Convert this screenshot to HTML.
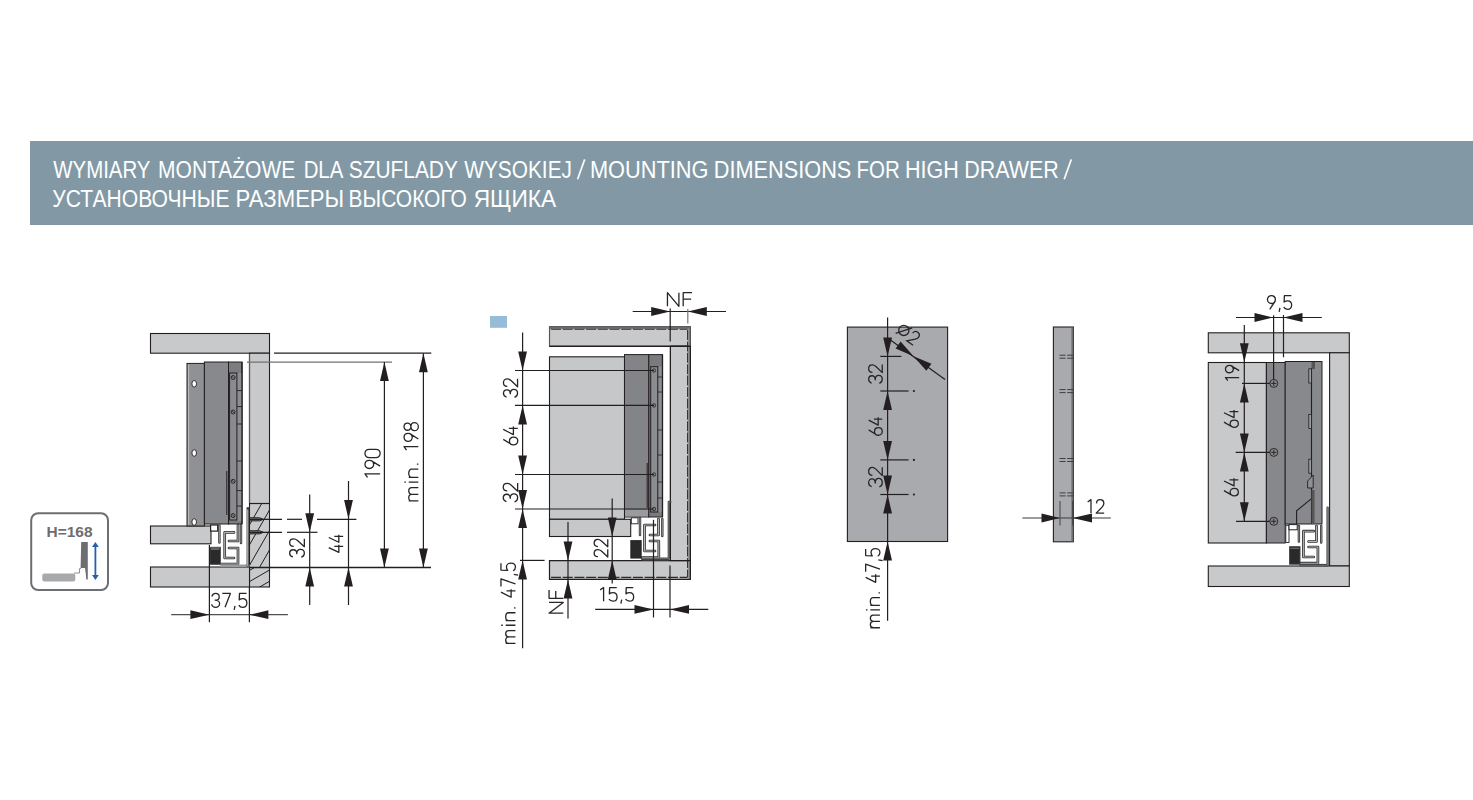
<!DOCTYPE html>
<html><head><meta charset="utf-8"><style>
html,body{margin:0;padding:0;background:#fff;width:1473px;height:800px;overflow:hidden}
svg text{font-family:"Liberation Sans",sans-serif}
</style></head><body>
<svg width="1473" height="800" viewBox="0 0 1473 800" style="display:block"><rect x="30" y="141" width="1443" height="84" fill="#8299a5"/>
<text x="53.31" y="178" font-size="24.8" fill="#ffffff"  textLength="97.14" lengthAdjust="spacingAndGlyphs">WYMIARY</text>
<text x="158.10" y="178" font-size="24.8" fill="#ffffff"  textLength="137.09" lengthAdjust="spacingAndGlyphs">MONTAŻOWE</text>
<text x="303.63" y="178" font-size="24.8" fill="#ffffff"  textLength="39.61" lengthAdjust="spacingAndGlyphs">DLA</text>
<text x="348.75" y="178" font-size="24.8" fill="#ffffff"  textLength="109.11" lengthAdjust="spacingAndGlyphs">SZUFLADY</text>
<text x="464.31" y="178" font-size="24.8" fill="#ffffff"  textLength="107.64" lengthAdjust="spacingAndGlyphs">WYSOKIEJ</text>
<text x="589.91" y="178" font-size="24.8" fill="#ffffff"  textLength="118.51" lengthAdjust="spacingAndGlyphs">MOUNTING</text>
<text x="713.82" y="178" font-size="24.8" fill="#ffffff"  textLength="137.48" lengthAdjust="spacingAndGlyphs">DIMENSIONS</text>
<text x="856.52" y="178" font-size="24.8" fill="#ffffff"  textLength="43.23" lengthAdjust="spacingAndGlyphs">FOR</text>
<text x="905.03" y="178" font-size="24.8" fill="#ffffff"  textLength="53.82" lengthAdjust="spacingAndGlyphs">HIGH</text>
<text x="964.16" y="178" font-size="24.8" fill="#ffffff"  textLength="94.53" lengthAdjust="spacingAndGlyphs">DRAWER</text>
<line x1="577.6" y1="179.3" x2="584.7" y2="159.4" stroke="#fbfbfb" stroke-width="1.7" />
<line x1="1064.2" y1="179.3" x2="1071.3" y2="159.4" stroke="#fbfbfb" stroke-width="1.7" />
<text x="52.34" y="207" font-size="24.8" fill="#ffffff"  textLength="177.15" lengthAdjust="spacingAndGlyphs">УСТАНОВОЧНЫЕ</text>
<text x="235.62" y="207" font-size="24.8" fill="#ffffff"  textLength="108.57" lengthAdjust="spacingAndGlyphs">РАЗМЕРЫ</text>
<text x="348.61" y="207" font-size="24.8" fill="#ffffff"  textLength="118.28" lengthAdjust="spacingAndGlyphs">ВЫСОКОГО</text>
<text x="473.74" y="207" font-size="24.8" fill="#ffffff"  textLength="82.31" lengthAdjust="spacingAndGlyphs">ЯЩИКА</text>
<rect x="31.2" y="513.2" width="76.8" height="76.8" rx="7" fill="#fff" stroke="#6d6e71" stroke-width="2"/>
<text x="46.5" y="537" font-size="15.5" font-weight="bold" fill="#6d6e71" textLength="46" lengthAdjust="spacingAndGlyphs">H=168</text>
<rect x="42.3" y="573.5" width="33" height="8" rx="2" fill="#a7a9ac"/>
<polygon points="81.2,542 87.8,542 87.8,579.5 86.3,579.5 85.8,574 85,568 80.6,568" fill="#6d6e71" stroke="none" stroke-width="1" />
<polyline points="74,573 79.5,573 79.5,568.5 81,568.5" fill="none" stroke="#8f9093" stroke-width="1" />
<line x1="95.4" y1="545" x2="95.4" y2="577" stroke="#2a5ea8" stroke-width="1.8"/>
<polygon points="95.4,542 92,547 98.8,547" fill="#2a5ea8" stroke="none" stroke-width="1" />
<polygon points="95.4,580 92,575 98.8,575" fill="#2a5ea8" stroke="none" stroke-width="1" />
<rect x="150.5" y="333.5" width="119" height="19.7" fill="#c8c9cb" stroke="#231f20" stroke-width="1.1" />
<rect x="249.5" y="353.2" width="20" height="233.8" fill="#c8c9cb" stroke="#231f20" stroke-width="1.1" />
<line x1="249.5" y1="353.8" x2="249.5" y2="503" stroke="#5a5a5a" stroke-width="1.2" />
<clipPath id="h1"><rect x="249.5" y="503.5" width="20" height="63.8"/></clipPath>
<clipPath id="h2"><rect x="249.5" y="567.3" width="20" height="19.7"/></clipPath>
<g clip-path="url(#h1)"><line x1="269.5" y1="470" x2="249.5" y2="504.8" stroke="#231f20" stroke-width="1"/><line x1="269.5" y1="490" x2="249.5" y2="524.8" stroke="#231f20" stroke-width="1"/><line x1="269.5" y1="510" x2="249.5" y2="544.8" stroke="#231f20" stroke-width="1"/><line x1="269.5" y1="530.5" x2="249.5" y2="565.3" stroke="#231f20" stroke-width="1"/><line x1="269.5" y1="550" x2="249.5" y2="584.8" stroke="#231f20" stroke-width="1"/><line x1="269.5" y1="570" x2="249.5" y2="604.8" stroke="#231f20" stroke-width="1"/></g>
<g clip-path="url(#h2)"><line x1="269.5" y1="558.8" x2="249.5" y2="570.4" stroke="#231f20" stroke-width="1"/><line x1="269.5" y1="570" x2="249.5" y2="581.6" stroke="#231f20" stroke-width="1"/><line x1="269.5" y1="581.3" x2="249.5" y2="592.9" stroke="#231f20" stroke-width="1"/><line x1="269.5" y1="592.5" x2="249.5" y2="604.1" stroke="#231f20" stroke-width="1"/></g>
<line x1="249.5" y1="503.5" x2="269.5" y2="503.5" stroke="#231f20" stroke-width="1.2" />
<rect x="150.5" y="567" width="99" height="20" fill="#c8c9cb" stroke="#231f20" stroke-width="1.1" />
<rect x="150.5" y="526" width="60.5" height="17.8" fill="#c8c9cb" stroke="#231f20" stroke-width="1.1" />
<rect x="187" y="363.4" width="17.4" height="162.6" fill="#909194" stroke="#231f20" stroke-width="1" />
<line x1="188.6" y1="364.5" x2="188.6" y2="525" stroke="#c9cacc" stroke-width="0.8" />
<ellipse cx="194.2" cy="383.8" rx="2.3" ry="3.3" fill="#fff" stroke="#231f20" stroke-width="0.9"/>
<ellipse cx="194.2" cy="453" rx="2.3" ry="3.3" fill="#fff" stroke="#231f20" stroke-width="0.9"/>
<ellipse cx="194.2" cy="522" rx="2.3" ry="3.3" fill="#fff" stroke="#231f20" stroke-width="0.9"/>
<rect x="204.4" y="362" width="24.1" height="162" fill="#88898c" stroke="#231f20" stroke-width="1" />
<rect x="228.5" y="362" width="13.5" height="162" fill="#7c7d80" stroke="#231f20" stroke-width="1" />
<rect x="236.9" y="373" width="5.1" height="148" fill="#8d8e91" stroke="none" stroke-width="1.1" />
<rect x="229.6" y="373" width="7.3" height="147" fill="#8a8b8e" stroke="#231f20" stroke-width="1" />
<line x1="242" y1="362" x2="242" y2="524" stroke="#231f20" stroke-width="1.3" />
<line x1="236.9" y1="390.6" x2="242" y2="390.6" stroke="#231f20" stroke-width="0.9" />
<line x1="236.9" y1="406.6" x2="242" y2="406.6" stroke="#231f20" stroke-width="0.9" />
<line x1="236.9" y1="424" x2="242" y2="424" stroke="#231f20" stroke-width="0.9" />
<line x1="236.9" y1="461" x2="242" y2="461" stroke="#231f20" stroke-width="0.9" />
<line x1="236.9" y1="490.6" x2="242" y2="490.6" stroke="#231f20" stroke-width="0.9" />
<line x1="236.9" y1="506" x2="242" y2="506" stroke="#231f20" stroke-width="0.9" />
<line x1="226.8" y1="471" x2="226.8" y2="515" stroke="#231f20" stroke-width="1" />
<circle cx="233.1" cy="377.5" r="2" fill="#8a8b8e" stroke="#231f20" stroke-width="0.9"/>
<line x1="231.8" y1="376.2" x2="234.4" y2="378.8" stroke="#231f20" stroke-width="0.8" />
<circle cx="233.1" cy="412" r="2" fill="#8a8b8e" stroke="#231f20" stroke-width="0.9"/>
<line x1="231.8" y1="410.7" x2="234.4" y2="413.3" stroke="#231f20" stroke-width="0.8" />
<circle cx="233.1" cy="481.3" r="2" fill="#8a8b8e" stroke="#231f20" stroke-width="0.9"/>
<line x1="231.8" y1="480" x2="234.4" y2="482.6" stroke="#231f20" stroke-width="0.8" />
<circle cx="233.1" cy="515.6" r="2" fill="#8a8b8e" stroke="#231f20" stroke-width="0.9"/>
<line x1="231.8" y1="514.3" x2="234.4" y2="516.9" stroke="#231f20" stroke-width="0.8" />
<rect x="210.6" y="525" width="7.1" height="6.1" fill="#fff" stroke="#231f20" stroke-width="1.2" />
<polyline points="219.4,525.5 219.4,542.5" fill="none" stroke="#2e2e2e" stroke-width="2.4" stroke-linejoin="round" stroke-linecap="round"/>
<polyline points="219.4,525.5 219.4,542.5" fill="none" stroke="#b4b4b4" stroke-width="0.7999999999999998" stroke-linejoin="round" stroke-linecap="round"/>
<polyline points="241,525 241,543" fill="none" stroke="#2e2e2e" stroke-width="2.4" stroke-linejoin="round" stroke-linecap="round"/>
<polyline points="241,525 241,543" fill="none" stroke="#b4b4b4" stroke-width="0.7999999999999998" stroke-linejoin="round" stroke-linecap="round"/>
<polyline points="234,532.4 224.7,532.4 224.7,558 234,558" fill="none" stroke="#2e2e2e" stroke-width="2.7" stroke-linejoin="round" stroke-linecap="round"/>
<polyline points="234,532.4 224.7,532.4 224.7,558 234,558" fill="none" stroke="#b4b4b4" stroke-width="1.1" stroke-linejoin="round" stroke-linecap="round"/>
<polyline points="238,525 238,541 229,541" fill="none" stroke="#2e2e2e" stroke-width="2.7" stroke-linejoin="round" stroke-linecap="round"/>
<polyline points="238,525 238,541 229,541" fill="none" stroke="#b4b4b4" stroke-width="1.1" stroke-linejoin="round" stroke-linecap="round"/>
<polyline points="229,548 238,548 238,564 221,564" fill="none" stroke="#2e2e2e" stroke-width="2.7" stroke-linejoin="round" stroke-linecap="round"/>
<polyline points="229,548 238,548 238,564 221,564" fill="none" stroke="#b4b4b4" stroke-width="1.1" stroke-linejoin="round" stroke-linecap="round"/>
<rect x="209.8" y="547.3" width="10.7" height="17.1" fill="#2a2a2a" stroke="#555" stroke-width="1" />
<line x1="211" y1="549" x2="219.5" y2="549" stroke="#999" stroke-width="1" />
<rect x="220.5" y="564.5" width="29" height="2.5" fill="#9a9b9e" stroke="none" stroke-width="1.1" />
<polyline points="247.8,566.5 247.8,508.5 249.5,508.5" fill="none" stroke="#333" stroke-width="2.4" />
<polyline points="247.8,566 247.8,509.5" fill="none" stroke="#fff" stroke-width="0.8" />
<polygon points="249.5,517.7 259.5,517.7 263.5,519.3 259.5,520.9 249.5,520.9" fill="#777" stroke="#231f20" stroke-width="0.9" />
<polygon points="249.5,530.7 259.5,530.7 263.5,532.3 259.5,533.9 249.5,533.9" fill="#777" stroke="#231f20" stroke-width="0.9" />
<line x1="274" y1="353.2" x2="431.3" y2="353.2" stroke="#231f20" stroke-width="1.2" />
<line x1="247" y1="362.1" x2="392" y2="362.1" stroke="#707070" stroke-width="1.2" />
<polygon points="384.4,362.1 380,381.1 388.8,381.1" fill="#231f20" stroke="none" stroke-width="1" />
<line x1="384.4" y1="362.1" x2="384.4" y2="567.5" stroke="#231f20" stroke-width="1.2" />
<polygon points="423.4,353.2 419,372.2 427.8,372.2" fill="#231f20" stroke="none" stroke-width="1" />
<line x1="423.4" y1="353.2" x2="423.4" y2="567.5" stroke="#231f20" stroke-width="1.2" />
<polygon points="384.4,567.5 380,548.5 388.8,548.5" fill="#231f20" stroke="none" stroke-width="1" />
<polygon points="423.4,567.5 419,548.5 427.8,548.5" fill="#231f20" stroke="none" stroke-width="1" />
<line x1="249.5" y1="567.5" x2="431" y2="567.5" stroke="#231f20" stroke-width="1.6" />
<line x1="249.5" y1="519.3" x2="282" y2="519.3" stroke="#231f20" stroke-width="1.2" />
<line x1="287" y1="519.3" x2="302" y2="519.3" stroke="#231f20" stroke-width="1.2" />
<line x1="317" y1="519.3" x2="356.4" y2="519.3" stroke="#231f20" stroke-width="1.2" />
<line x1="249.5" y1="532.3" x2="282" y2="532.3" stroke="#231f20" stroke-width="1.2" />
<line x1="287" y1="532.3" x2="317.5" y2="532.3" stroke="#231f20" stroke-width="1.2" />
<line x1="309.7" y1="494.4" x2="309.7" y2="605" stroke="#231f20" stroke-width="1.2" />
<polygon points="309.7,532.3 305.3,513.3 314.1,513.3" fill="#231f20" stroke="none" stroke-width="1" />
<polygon points="309.7,567.5 305.3,586.5 314.1,586.5" fill="#231f20" stroke="none" stroke-width="1" />
<line x1="348.5" y1="481" x2="348.5" y2="605" stroke="#231f20" stroke-width="1.2" />
<polygon points="348.5,519.1 344.1,500.1 352.9,500.1" fill="#231f20" stroke="none" stroke-width="1" />
<polygon points="348.5,567.5 344.1,586.5 352.9,586.5" fill="#231f20" stroke="none" stroke-width="1" />
<g transform="translate(289,557.9) rotate(-90) translate(0.65,0.65) scale(0.9894,1.0500) translate(0,0)" fill="none" stroke="#262626" stroke-width="1.3" stroke-linejoin="round"><path vector-effect="non-scaling-stroke" transform="translate(0,0)" d="M0.3,3.1 C0.8,1.1 2.3,0 4,0 C6.1,0 7.6,1.5 7.6,3.5 C7.6,5.5 6.1,6.8 3.6,6.8 C6.3,6.8 8,8.2 8,10.3 C8,12.5 6.3,14 4,14 C2.1,14 0.6,12.9 0,11"/><path vector-effect="non-scaling-stroke" transform="translate(10.7,0)" d="M0.3,3.9 C0.4,1.5 2,0 4,0 C6.2,0 7.8,1.6 7.8,3.8 C7.8,5.2 7.2,6.3 6.2,7.5 L0,14 L8.1,14"/></g>
<g transform="translate(328.1,553) rotate(-90) translate(0.65,0.65) scale(0.9077,1.0286) translate(0,0)" fill="none" stroke="#262626" stroke-width="1.3" stroke-linejoin="round"><path vector-effect="non-scaling-stroke" transform="translate(0,0)" d="M5.3,0 L0,9.8 L8.4,9.8 M6.5,5.4 L6.5,14"/><path vector-effect="non-scaling-stroke" transform="translate(11.1,0)" d="M5.3,0 L0,9.8 L8.4,9.8 M6.5,5.4 L6.5,14"/></g>
<g transform="translate(364.3,478) rotate(-90) translate(0.65,0.65) scale(1.0182,1.0857) translate(-3,0)" fill="none" stroke="#262626" stroke-width="1.3" stroke-linejoin="round"><path vector-effect="non-scaling-stroke" transform="translate(0,0)" d="M3,2.4 L6.4,0 L6.4,14"/><path vector-effect="non-scaling-stroke" transform="translate(11.7,0)" d="M2.3,14 L7,6.8 M8,4 C8,6.4 6.2,8 4,8 C1.8,8 0,6.4 0,4 C0,1.6 1.8,0 4,0 C6.2,0 8,1.6 8,4 Z"/><path vector-effect="non-scaling-stroke" transform="translate(22.4,0)" d="M0,4 C0,1.6 1.7,0 4,0 C6.3,0 8,1.6 8,4 L8,10 C8,12.4 6.3,14 4,14 C1.7,14 0,12.4 0,10 Z"/></g>
<g transform="translate(403.4,501.6) rotate(-90) translate(0.65,0.65) scale(1.0000,1.0214) translate(0,0)" fill="none" stroke="#262626" stroke-width="1.3" stroke-linejoin="round"><path vector-effect="non-scaling-stroke" transform="translate(0,0)" d="M0,4.6 L0,14 M0,7.4 C0,5.6 1.5,4.6 3.3,4.6 C5.3,4.6 6.65,5.6 6.65,7.4 L6.65,14 M6.65,7.4 C6.65,5.6 8,4.6 9.9,4.6 C11.9,4.6 13.3,5.6 13.3,7.4 L13.3,14"/><path vector-effect="non-scaling-stroke" transform="translate(18.3,0)" d="M0.5,4.6 L0.5,14 M0.5,0.3 L0.5,1.8"/><path vector-effect="non-scaling-stroke" transform="translate(23.5,0)" d="M0,4.6 L0,14 M0,7.4 C0,5.6 1.8,4.6 4.1,4.6 C6.5,4.6 8.3,5.6 8.3,7.4 L8.3,14"/><path vector-effect="non-scaling-stroke" transform="translate(36.3,0)" d="M0.5,12.6 L0.5,14"/><path vector-effect="non-scaling-stroke" transform="translate(47.9,0)" d="M3,2.4 L6.4,0 L6.4,14"/><path vector-effect="non-scaling-stroke" transform="translate(59.6,0)" d="M2.3,14 L7,6.8 M8,4 C8,6.4 6.2,8 4,8 C1.8,8 0,6.4 0,4 C0,1.6 1.8,0 4,0 C6.2,0 8,1.6 8,4 Z"/><path vector-effect="non-scaling-stroke" transform="translate(70.3,0)" d="M0.4,3.35 C0.4,1.4 2,0 4,0 C6,0 7.6,1.4 7.6,3.35 C7.6,5.3 6,6.7 4,6.7 C2,6.7 0.4,5.3 0.4,3.35 Z M0,10.2 C0,8 1.8,6.7 4,6.7 C6.2,6.7 8,8 8,10.2 C8,12.4 6.2,14 4,14 C1.8,14 0,12.4 0,10.2 Z"/></g>
<line x1="171.2" y1="614.7" x2="287.9" y2="614.7" stroke="#505050" stroke-width="1.2" />
<polygon points="209.4,614.7 190.4,610.3 190.4,619.1" fill="#231f20" stroke="none" stroke-width="1" />
<polygon points="249.4,614.7 268.4,610.3 268.4,619.1" fill="#231f20" stroke="none" stroke-width="1" />
<line x1="209.4" y1="545" x2="209.4" y2="622.3" stroke="#231f20" stroke-width="1.2" />
<line x1="249.4" y1="587" x2="249.4" y2="622.3" stroke="#231f20" stroke-width="1.2" />
<g transform="translate(211.55,593.45) scale(1.0057,0.9929) translate(0,0)" fill="none" stroke="#262626" stroke-width="1.3" stroke-linejoin="round"><g vector-effect="non-scaling-stroke"><path vector-effect="non-scaling-stroke" transform="translate(0,0)" d="M0.3,3.1 C0.8,1.1 2.3,0 4,0 C6.1,0 7.6,1.5 7.6,3.5 C7.6,5.5 6.1,6.8 3.6,6.8 C6.3,6.8 8,8.2 8,10.3 C8,12.5 6.3,14 4,14 C2.1,14 0.6,12.9 0,11"/><path vector-effect="non-scaling-stroke" transform="translate(10.7,0)" d="M0,0 L8,0 L2.7,14"/><path vector-effect="non-scaling-stroke" transform="translate(21.4,0)" d="M1.9,12.4 L1.1,16.6"/><path vector-effect="non-scaling-stroke" transform="translate(27.1,0)" d="M7.7,0 L0.7,0 L0.4,6.5 C1.4,5.7 2.6,5.3 3.9,5.3 C6.4,5.3 8,7.1 8,9.6 C8,12.3 6.3,14 3.9,14 C2.2,14 0.8,13.2 0,11.8"/></g></g>
<rect x="490" y="316" width="17" height="11.8" fill="#96bcd8"/>
<rect x="549.5" y="326.8" width="140.9" height="19.5" fill="#c8c9cb" stroke="#231f20" stroke-width="1.1" />
<rect x="670.4" y="346.3" width="20" height="214.3" fill="#c8c9cb" stroke="#231f20" stroke-width="1.1" />
<rect x="549.5" y="560.6" width="140.9" height="18.8" fill="#c8c9cb" stroke="#231f20" stroke-width="1.1" />
<rect x="549.5" y="327" width="140.9" height="2" fill="#808184"/>
<rect x="688.4" y="327" width="2" height="252" fill="#808184"/>
<line x1="551" y1="329.3" x2="687.6" y2="329.3" stroke="#2e2e2e" stroke-width="1.1" stroke-dasharray="10,1.7"/>
<line x1="551" y1="577.4" x2="687.6" y2="577.4" stroke="#2e2e2e" stroke-width="1.1" stroke-dasharray="10,1.7"/>
<line x1="687.6" y1="330" x2="687.6" y2="577" stroke="#2e2e2e" stroke-width="1.1" stroke-dasharray="10,1.4"/>
<rect x="549.5" y="326.8" width="140.9" height="19.5" fill="none" stroke="#555" stroke-width="1" />
<line x1="549.5" y1="346.3" x2="690.4" y2="346.3" stroke="#231f20" stroke-width="1.2" />
<rect x="670.4" y="346.3" width="20" height="214.3" fill="none" stroke="#231f20" stroke-width="1.1" />
<rect x="549.5" y="560.6" width="140.9" height="18.8" fill="none" stroke="#231f20" stroke-width="1.1" />
<line x1="549.5" y1="327.3" x2="690.4" y2="327.3" stroke="#68696c" stroke-width="1.8" />
<rect x="549.5" y="356.8" width="75" height="162.5" fill="#c6c7c9" stroke="#231f20" stroke-width="1.1" />
<rect x="549.5" y="519.3" width="81.2" height="17.2" fill="#c6c7c9" stroke="#231f20" stroke-width="1.1" />
<rect x="624.5" y="354.6" width="24.3" height="162.4" fill="#838487" stroke="#231f20" stroke-width="1" />
<rect x="625" y="510" width="23.3" height="6.5" fill="#9a9b9e" stroke="none" stroke-width="1.1" />
<rect x="648.8" y="354.6" width="13.7" height="162.4" fill="#7a7b7e" stroke="#231f20" stroke-width="1" />
<rect x="657.8" y="366.7" width="4.7" height="145.3" fill="#8d8e91" stroke="none" stroke-width="1.1" />
<rect x="650.7" y="366.7" width="7.1" height="145.3" fill="#8b8c8f" stroke="#231f20" stroke-width="1" />
<line x1="662.5" y1="354.6" x2="662.5" y2="517" stroke="#231f20" stroke-width="1.3" />
<line x1="657.8" y1="377" x2="662.5" y2="377" stroke="#231f20" stroke-width="0.8" />
<line x1="657.8" y1="392" x2="662.5" y2="392" stroke="#231f20" stroke-width="0.8" />
<line x1="657.8" y1="430" x2="662.5" y2="430" stroke="#231f20" stroke-width="0.8" />
<line x1="657.8" y1="455" x2="662.5" y2="455" stroke="#231f20" stroke-width="0.8" />
<line x1="657.8" y1="482" x2="662.5" y2="482" stroke="#231f20" stroke-width="0.8" />
<line x1="657.8" y1="498" x2="662.5" y2="498" stroke="#231f20" stroke-width="0.8" />
<line x1="647.2" y1="463" x2="647.2" y2="508" stroke="#231f20" stroke-width="1" />
<circle cx="654" cy="370.5" r="1.7" fill="none" stroke="#231f20" stroke-width="0.8"/>
<circle cx="654" cy="405.4" r="1.7" fill="none" stroke="#231f20" stroke-width="0.8"/>
<circle cx="654" cy="474.5" r="1.7" fill="none" stroke="#231f20" stroke-width="0.8"/>
<circle cx="654" cy="509" r="1.7" fill="none" stroke="#231f20" stroke-width="0.8"/>
<rect x="631.3" y="517.8" width="6.7" height="6" fill="#fff" stroke="#231f20" stroke-width="0.9" />
<polyline points="640,518 640,535" fill="none" stroke="#2e2e2e" stroke-width="2.4" stroke-linejoin="round" stroke-linecap="round"/>
<polyline points="640,518 640,535" fill="none" stroke="#b4b4b4" stroke-width="0.7999999999999998" stroke-linejoin="round" stroke-linecap="round"/>
<polyline points="662.3,519 662.3,536" fill="none" stroke="#2e2e2e" stroke-width="2.4" stroke-linejoin="round" stroke-linecap="round"/>
<polyline points="662.3,519 662.3,536" fill="none" stroke="#b4b4b4" stroke-width="0.7999999999999998" stroke-linejoin="round" stroke-linecap="round"/>
<polyline points="655,525 644.5,525 644.5,551 655,551" fill="none" stroke="#2e2e2e" stroke-width="2.7" stroke-linejoin="round" stroke-linecap="round"/>
<polyline points="655,525 644.5,525 644.5,551 655,551" fill="none" stroke="#b4b4b4" stroke-width="1.1" stroke-linejoin="round" stroke-linecap="round"/>
<polyline points="658.5,519 658.5,535 650,535" fill="none" stroke="#2e2e2e" stroke-width="2.7" stroke-linejoin="round" stroke-linecap="round"/>
<polyline points="658.5,519 658.5,535 650,535" fill="none" stroke="#b4b4b4" stroke-width="1.1" stroke-linejoin="round" stroke-linecap="round"/>
<polyline points="650,541 658.8,541 658.8,557.5 642,557.5" fill="none" stroke="#2e2e2e" stroke-width="2.7" stroke-linejoin="round" stroke-linecap="round"/>
<polyline points="650,541 658.8,541 658.8,557.5 642,557.5" fill="none" stroke="#b4b4b4" stroke-width="1.1" stroke-linejoin="round" stroke-linecap="round"/>
<rect x="630.8" y="540.6" width="10.4" height="17.5" fill="#2a2a2a" stroke="#231f20" stroke-width="0.8" />
<rect x="641.9" y="557.5" width="26.9" height="2.7" fill="#9a9b9e" stroke="none" stroke-width="1.1" />
<polyline points="641.9,558.8 668.8,558.8 668.8,501.9 670.4,501.9" fill="none" stroke="#2e2e2e" stroke-width="2.2" stroke-linejoin="round" stroke-linecap="round"/>
<polyline points="641.9,558.8 668.8,558.8 668.8,501.9 670.4,501.9" fill="none" stroke="#b4b4b4" stroke-width="0.6000000000000001" stroke-linejoin="round" stroke-linecap="round"/>
<line x1="522.6" y1="332.5" x2="522.6" y2="648.3" stroke="#231f20" stroke-width="1.2" />
<line x1="515" y1="370.5" x2="654" y2="370.5" stroke="#231f20" stroke-width="1.2" />
<line x1="515" y1="405.4" x2="654" y2="405.4" stroke="#231f20" stroke-width="1.2" />
<line x1="515" y1="474.5" x2="654" y2="474.5" stroke="#231f20" stroke-width="1.2" />
<line x1="515" y1="509" x2="654" y2="509" stroke="#231f20" stroke-width="1.2" />
<polygon points="522.6,370.5 518.2,351.5 527,351.5" fill="#231f20" stroke="none" stroke-width="1" />
<polygon points="522.6,405.4 518.2,424.4 527,424.4" fill="#231f20" stroke="none" stroke-width="1" />
<polygon points="522.6,474.5 518.2,455.5 527,455.5" fill="#231f20" stroke="none" stroke-width="1" />
<polygon points="522.6,509 518.2,490 527,490" fill="#231f20" stroke="none" stroke-width="1" />
<polygon points="522.6,509 518.2,528 527,528" fill="#231f20" stroke="none" stroke-width="1" />
<polygon points="522.6,560.4 518.2,579.4 527,579.4" fill="#231f20" stroke="none" stroke-width="1" />
<line x1="520" y1="560.4" x2="544.6" y2="560.4" stroke="#231f20" stroke-width="1.2" />
<g transform="translate(502.8,398) rotate(-90) translate(0.65,0.65) scale(0.9947,1.0071) translate(0,0)" fill="none" stroke="#262626" stroke-width="1.3" stroke-linejoin="round"><path vector-effect="non-scaling-stroke" transform="translate(0,0)" d="M0.3,3.1 C0.8,1.1 2.3,0 4,0 C6.1,0 7.6,1.5 7.6,3.5 C7.6,5.5 6.1,6.8 3.6,6.8 C6.3,6.8 8,8.2 8,10.3 C8,12.5 6.3,14 4,14 C2.1,14 0.6,12.9 0,11"/><path vector-effect="non-scaling-stroke" transform="translate(10.7,0)" d="M0.3,3.9 C0.4,1.5 2,0 4,0 C6.2,0 7.8,1.6 7.8,3.8 C7.8,5.2 7.2,6.3 6.2,7.5 L0,14 L8.1,14"/></g>
<g transform="translate(502.6,445.6) rotate(-90) translate(0.65,0.65) scale(0.9686,1.0357) translate(0,0)" fill="none" stroke="#262626" stroke-width="1.3" stroke-linejoin="round"><path vector-effect="non-scaling-stroke" transform="translate(0,0)" d="M5.7,0 L1,7.2 M0,10 C0,7.6 1.8,6 4,6 C6.2,6 8,7.6 8,10 C8,12.4 6.2,14 4,14 C1.8,14 0,12.4 0,10 Z"/><path vector-effect="non-scaling-stroke" transform="translate(10.7,0)" d="M5.3,0 L0,9.8 L8.4,9.8 M6.5,5.4 L6.5,14"/></g>
<g transform="translate(502.6,502.5) rotate(-90) translate(0.65,0.65) scale(1.0000,1.0286) translate(0,0)" fill="none" stroke="#262626" stroke-width="1.3" stroke-linejoin="round"><path vector-effect="non-scaling-stroke" transform="translate(0,0)" d="M0.3,3.1 C0.8,1.1 2.3,0 4,0 C6.1,0 7.6,1.5 7.6,3.5 C7.6,5.5 6.1,6.8 3.6,6.8 C6.3,6.8 8,8.2 8,10.3 C8,12.5 6.3,14 4,14 C2.1,14 0.6,12.9 0,11"/><path vector-effect="non-scaling-stroke" transform="translate(10.7,0)" d="M0.3,3.9 C0.4,1.5 2,0 4,0 C6.2,0 7.8,1.6 7.8,3.8 C7.8,5.2 7.2,6.3 6.2,7.5 L0,14 L8.1,14"/></g>
<g transform="translate(500.3,644) rotate(-90) translate(0.65,0.65) scale(0.9628,1.0357) translate(0,0)" fill="none" stroke="#262626" stroke-width="1.3" stroke-linejoin="round"><path vector-effect="non-scaling-stroke" transform="translate(0,0)" d="M0,4.6 L0,14 M0,7.4 C0,5.6 1.5,4.6 3.3,4.6 C5.3,4.6 6.65,5.6 6.65,7.4 L6.65,14 M6.65,7.4 C6.65,5.6 8,4.6 9.9,4.6 C11.9,4.6 13.3,5.6 13.3,7.4 L13.3,14"/><path vector-effect="non-scaling-stroke" transform="translate(18.3,0)" d="M0.5,4.6 L0.5,14 M0.5,0.3 L0.5,1.8"/><path vector-effect="non-scaling-stroke" transform="translate(23.5,0)" d="M0,4.6 L0,14 M0,7.4 C0,5.6 1.8,4.6 4.1,4.6 C6.5,4.6 8.3,5.6 8.3,7.4 L8.3,14"/><path vector-effect="non-scaling-stroke" transform="translate(36.3,0)" d="M0.5,12.6 L0.5,14"/><path vector-effect="non-scaling-stroke" transform="translate(47.9,0)" d="M5.3,0 L0,9.8 L8.4,9.8 M6.5,5.4 L6.5,14"/><path vector-effect="non-scaling-stroke" transform="translate(59,0)" d="M0,0 L8,0 L2.7,14"/><path vector-effect="non-scaling-stroke" transform="translate(69.7,0)" d="M1.9,12.4 L1.1,16.6"/><path vector-effect="non-scaling-stroke" transform="translate(75.4,0)" d="M7.7,0 L0.7,0 L0.4,6.5 C1.4,5.7 2.6,5.3 3.9,5.3 C6.4,5.3 8,7.1 8,9.6 C8,12.3 6.3,14 3.9,14 C2.2,14 0.8,13.2 0,11.8"/></g>
<line x1="568" y1="521.9" x2="568" y2="618.6" stroke="#231f20" stroke-width="1.2" />
<polygon points="568,560.4 563.6,541.4 572.4,541.4" fill="#231f20" stroke="none" stroke-width="1" />
<polygon points="568,579.4 563.6,598.4 572.4,598.4" fill="#231f20" stroke="none" stroke-width="1" />
<g transform="translate(548.4,613.8) rotate(-90) translate(0.65,0.65) scale(0.9352,1.0143) translate(0,0)" fill="none" stroke="#262626" stroke-width="1.3" stroke-linejoin="round"><path vector-effect="non-scaling-stroke" transform="translate(0,0)" d="M0,14 L0,0 L11.5,14 L11.5,0"/><path vector-effect="non-scaling-stroke" transform="translate(15.8,0)" d="M8.9,0 L0,0 L0,14 M0,6.6 L8,6.6"/></g>
<line x1="612.2" y1="498.5" x2="612.2" y2="583.5" stroke="#231f20" stroke-width="1.2" />
<polygon points="612.2,536.5 607.8,517.5 616.6,517.5" fill="#231f20" stroke="none" stroke-width="1" />
<polygon points="612.2,560.4 607.8,579.4 616.6,579.4" fill="#231f20" stroke="none" stroke-width="1" />
<g transform="translate(593.5,557.6) rotate(-90) translate(0.65,0.65) scale(0.9468,0.9714) translate(0,0)" fill="none" stroke="#262626" stroke-width="1.3" stroke-linejoin="round"><path vector-effect="non-scaling-stroke" transform="translate(0,0)" d="M0.3,3.9 C0.4,1.5 2,0 4,0 C6.2,0 7.8,1.6 7.8,3.8 C7.8,5.2 7.2,6.3 6.2,7.5 L0,14 L8.1,14"/><path vector-effect="non-scaling-stroke" transform="translate(10.7,0)" d="M0.3,3.9 C0.4,1.5 2,0 4,0 C6.2,0 7.8,1.6 7.8,3.8 C7.8,5.2 7.2,6.3 6.2,7.5 L0,14 L8.1,14"/></g>
<line x1="595.2" y1="609.4" x2="708.3" y2="609.4" stroke="#231f20" stroke-width="1.2" />
<polygon points="653.5,609.4 634.5,605 634.5,613.8" fill="#231f20" stroke="none" stroke-width="1" />
<polygon points="670,609.4 689,605 689,613.8" fill="#231f20" stroke="none" stroke-width="1" />
<line x1="653.5" y1="519.8" x2="653.5" y2="617.5" stroke="#231f20" stroke-width="1.2" />
<line x1="670" y1="565.5" x2="670" y2="617.5" stroke="#231f20" stroke-width="1.2" />
<g transform="translate(600.15,587.55) scale(1.0121,0.9714) translate(-3,0)" fill="none" stroke="#262626" stroke-width="1.3" stroke-linejoin="round"><g vector-effect="non-scaling-stroke"><path vector-effect="non-scaling-stroke" transform="translate(0,0)" d="M3,2.4 L6.4,0 L6.4,14"/><path vector-effect="non-scaling-stroke" transform="translate(11.7,0)" d="M7.7,0 L0.7,0 L0.4,6.5 C1.4,5.7 2.6,5.3 3.9,5.3 C6.4,5.3 8,7.1 8,9.6 C8,12.3 6.3,14 3.9,14 C2.2,14 0.8,13.2 0,11.8"/><path vector-effect="non-scaling-stroke" transform="translate(22.4,0)" d="M1.9,12.4 L1.1,16.6"/><path vector-effect="non-scaling-stroke" transform="translate(28.1,0)" d="M7.7,0 L0.7,0 L0.4,6.5 C1.4,5.7 2.6,5.3 3.9,5.3 C6.4,5.3 8,7.1 8,9.6 C8,12.3 6.3,14 3.9,14 C2.2,14 0.8,13.2 0,11.8"/></g></g>
<line x1="632.7" y1="311.5" x2="726" y2="311.5" stroke="#231f20" stroke-width="1.2" />
<polygon points="670.2,311.5 651.2,307.1 651.2,315.9" fill="#231f20" stroke="none" stroke-width="1" />
<polygon points="687.8,311.5 706.8,307.1 706.8,315.9" fill="#231f20" stroke="none" stroke-width="1" />
<line x1="670.2" y1="308.5" x2="670.2" y2="341.5" stroke="#231f20" stroke-width="1.2" />
<line x1="687.8" y1="309" x2="687.8" y2="323.5" stroke="#777" stroke-width="1.2" />
<g transform="translate(667.45,292.65) scale(0.9960,0.9786) translate(0,0)" fill="none" stroke="#262626" stroke-width="1.3" stroke-linejoin="round"><g vector-effect="non-scaling-stroke"><path vector-effect="non-scaling-stroke" transform="translate(0,0)" d="M0,14 L0,0 L11.5,14 L11.5,0"/><path vector-effect="non-scaling-stroke" transform="translate(15.8,0)" d="M8.9,0 L0,0 L0,14 M0,6.6 L8,6.6"/></g></g>
<rect x="847.4" y="327.1" width="100.2" height="214.4" fill="#a9aaad" stroke="#231f20" stroke-width="1.1" />
<line x1="887.6" y1="317.5" x2="887.6" y2="620.8" stroke="#231f20" stroke-width="1.2" />
<line x1="880.3" y1="356.4" x2="901.3" y2="356.4" stroke="#231f20" stroke-width="1.2" />
<line x1="880.3" y1="391" x2="908.6" y2="391" stroke="#231f20" stroke-width="1.2" />
<circle cx="913.9" cy="391" r="1.1" fill="#231f20"/>
<line x1="880.3" y1="459.9" x2="908.6" y2="459.9" stroke="#231f20" stroke-width="1.2" />
<circle cx="913.9" cy="459.9" r="1.1" fill="#231f20"/>
<line x1="880.3" y1="494.5" x2="908.6" y2="494.5" stroke="#231f20" stroke-width="1.2" />
<circle cx="913.9" cy="494.5" r="1.1" fill="#231f20"/>
<polygon points="887.6,356.4 883.2,337.4 892,337.4" fill="#231f20" stroke="none" stroke-width="1" />
<polygon points="887.6,391 883.2,410 892,410" fill="#231f20" stroke="none" stroke-width="1" />
<polygon points="887.6,459.9 883.2,440.9 892,440.9" fill="#231f20" stroke="none" stroke-width="1" />
<polygon points="887.6,494.5 883.2,475.5 892,475.5" fill="#231f20" stroke="none" stroke-width="1" />
<polygon points="887.6,494.5 883.2,513.5 892,513.5" fill="#231f20" stroke="none" stroke-width="1" />
<polygon points="887.6,541.5 883.2,560.5 892,560.5" fill="#231f20" stroke="none" stroke-width="1" />
<line x1="890.8" y1="340.3" x2="945" y2="379.6" stroke="#231f20" stroke-width="1.2" />
<polygon points="913.5,356.2 895.59,348.53 900.64,341.57" fill="#231f20" stroke="none" stroke-width="1" />
<polygon points="913.5,356.2 926.36,370.83 931.41,363.87" fill="#231f20" stroke="none" stroke-width="1" />
<circle cx="903.8" cy="330.4" r="5.1" fill="none" stroke="#262626" stroke-width="1.3"/>
<line x1="895.6" y1="333.4" x2="912.3" y2="327.8" stroke="#262626" stroke-width="1.3" />
<g transform="translate(913.8,337.6) rotate(36) scale(0.95,0.95) translate(-4,-7)" fill="none" stroke="#262626" stroke-width="1.3"><path vector-effect="non-scaling-stroke" d="M0.3,3.9 C0.4,1.5 2,0 4,0 C6.2,0 7.8,1.6 7.8,3.8 C7.8,5.2 7.2,6.3 6.2,7.5 L0,14 L8.1,14"/></g>
<g transform="translate(868,384) rotate(-90) translate(0.65,0.65) scale(1.0000,0.9714) translate(0,0)" fill="none" stroke="#262626" stroke-width="1.3" stroke-linejoin="round"><path vector-effect="non-scaling-stroke" transform="translate(0,0)" d="M0.3,3.1 C0.8,1.1 2.3,0 4,0 C6.1,0 7.6,1.5 7.6,3.5 C7.6,5.5 6.1,6.8 3.6,6.8 C6.3,6.8 8,8.2 8,10.3 C8,12.5 6.3,14 4,14 C2.1,14 0.6,12.9 0,11"/><path vector-effect="non-scaling-stroke" transform="translate(10.7,0)" d="M0.3,3.9 C0.4,1.5 2,0 4,0 C6.2,0 7.8,1.6 7.8,3.8 C7.8,5.2 7.2,6.3 6.2,7.5 L0,14 L8.1,14"/></g>
<g transform="translate(868,435.9) rotate(-90) translate(0.65,0.65) scale(0.9424,0.9714) translate(0,0)" fill="none" stroke="#262626" stroke-width="1.3" stroke-linejoin="round"><path vector-effect="non-scaling-stroke" transform="translate(0,0)" d="M5.7,0 L1,7.2 M0,10 C0,7.6 1.8,6 4,6 C6.2,6 8,7.6 8,10 C8,12.4 6.2,14 4,14 C1.8,14 0,12.4 0,10 Z"/><path vector-effect="non-scaling-stroke" transform="translate(10.7,0)" d="M5.3,0 L0,9.8 L8.4,9.8 M6.5,5.4 L6.5,14"/></g>
<g transform="translate(868,487.5) rotate(-90) translate(0.65,0.65) scale(1.0479,0.9714) translate(0,0)" fill="none" stroke="#262626" stroke-width="1.3" stroke-linejoin="round"><path vector-effect="non-scaling-stroke" transform="translate(0,0)" d="M0.3,3.1 C0.8,1.1 2.3,0 4,0 C6.1,0 7.6,1.5 7.6,3.5 C7.6,5.5 6.1,6.8 3.6,6.8 C6.3,6.8 8,8.2 8,10.3 C8,12.5 6.3,14 4,14 C2.1,14 0.6,12.9 0,11"/><path vector-effect="non-scaling-stroke" transform="translate(10.7,0)" d="M0.3,3.9 C0.4,1.5 2,0 4,0 C6.2,0 7.8,1.6 7.8,3.8 C7.8,5.2 7.2,6.3 6.2,7.5 L0,14 L8.1,14"/></g>
<g transform="translate(865,628.4) rotate(-90) translate(0.65,0.65) scale(0.9484,1.0214) translate(0,0)" fill="none" stroke="#262626" stroke-width="1.3" stroke-linejoin="round"><path vector-effect="non-scaling-stroke" transform="translate(0,0)" d="M0,4.6 L0,14 M0,7.4 C0,5.6 1.5,4.6 3.3,4.6 C5.3,4.6 6.65,5.6 6.65,7.4 L6.65,14 M6.65,7.4 C6.65,5.6 8,4.6 9.9,4.6 C11.9,4.6 13.3,5.6 13.3,7.4 L13.3,14"/><path vector-effect="non-scaling-stroke" transform="translate(18.3,0)" d="M0.5,4.6 L0.5,14 M0.5,0.3 L0.5,1.8"/><path vector-effect="non-scaling-stroke" transform="translate(23.5,0)" d="M0,4.6 L0,14 M0,7.4 C0,5.6 1.8,4.6 4.1,4.6 C6.5,4.6 8.3,5.6 8.3,7.4 L8.3,14"/><path vector-effect="non-scaling-stroke" transform="translate(36.3,0)" d="M0.5,12.6 L0.5,14"/><path vector-effect="non-scaling-stroke" transform="translate(47.9,0)" d="M5.3,0 L0,9.8 L8.4,9.8 M6.5,5.4 L6.5,14"/><path vector-effect="non-scaling-stroke" transform="translate(59,0)" d="M0,0 L8,0 L2.7,14"/><path vector-effect="non-scaling-stroke" transform="translate(69.7,0)" d="M1.9,12.4 L1.1,16.6"/><path vector-effect="non-scaling-stroke" transform="translate(75.4,0)" d="M7.7,0 L0.7,0 L0.4,6.5 C1.4,5.7 2.6,5.3 3.9,5.3 C6.4,5.3 8,7.1 8,9.6 C8,12.3 6.3,14 3.9,14 C2.2,14 0.8,13.2 0,11.8"/></g>
<rect x="1053.4" y="327" width="20" height="214.8" fill="#a9aaad" stroke="#231f20" stroke-width="1.1" />
<rect x="1071.4" y="327.5" width="2" height="214" fill="#6d6e71"/>
<line x1="1059.5" y1="355.2" x2="1065.6" y2="355.2" stroke="#333" stroke-width="0.9" />
<line x1="1067.2" y1="355.2" x2="1073" y2="355.2" stroke="#333" stroke-width="0.9" />
<line x1="1059.5" y1="358.2" x2="1065.6" y2="358.2" stroke="#333" stroke-width="0.9" />
<line x1="1067.2" y1="358.2" x2="1073" y2="358.2" stroke="#333" stroke-width="0.9" />
<line x1="1059.5" y1="389.6" x2="1065.6" y2="389.6" stroke="#333" stroke-width="0.9" />
<line x1="1067.2" y1="389.6" x2="1073" y2="389.6" stroke="#333" stroke-width="0.9" />
<line x1="1059.5" y1="392.6" x2="1065.6" y2="392.6" stroke="#333" stroke-width="0.9" />
<line x1="1067.2" y1="392.6" x2="1073" y2="392.6" stroke="#333" stroke-width="0.9" />
<line x1="1059.5" y1="458.5" x2="1065.6" y2="458.5" stroke="#333" stroke-width="0.9" />
<line x1="1067.2" y1="458.5" x2="1073" y2="458.5" stroke="#333" stroke-width="0.9" />
<line x1="1059.5" y1="461.5" x2="1065.6" y2="461.5" stroke="#333" stroke-width="0.9" />
<line x1="1067.2" y1="461.5" x2="1073" y2="461.5" stroke="#333" stroke-width="0.9" />
<line x1="1059.5" y1="492.9" x2="1065.6" y2="492.9" stroke="#333" stroke-width="0.9" />
<line x1="1067.2" y1="492.9" x2="1073" y2="492.9" stroke="#333" stroke-width="0.9" />
<line x1="1059.5" y1="495.9" x2="1065.6" y2="495.9" stroke="#333" stroke-width="0.9" />
<line x1="1067.2" y1="495.9" x2="1073" y2="495.9" stroke="#333" stroke-width="0.9" />
<line x1="1022.4" y1="518" x2="1110.8" y2="518" stroke="#3a3a3a" stroke-width="1.2" />
<polygon points="1060,518 1041.5,513.6 1041.5,522.4" fill="#231f20" stroke="none" stroke-width="1" />
<polygon points="1072.7,518 1092,513.6 1092,522.4" fill="#231f20" stroke="none" stroke-width="1" />
<line x1="1060" y1="501" x2="1060" y2="525.5" stroke="#555" stroke-width="1.2" />
<line x1="1072.7" y1="501" x2="1072.7" y2="525.5" stroke="#444" stroke-width="1.2" />
<g transform="translate(1087.65,499.65) scale(0.9821,0.9607) translate(-3,0)" fill="none" stroke="#262626" stroke-width="1.3" stroke-linejoin="round"><g vector-effect="non-scaling-stroke"><path vector-effect="non-scaling-stroke" transform="translate(0,0)" d="M3,2.4 L6.4,0 L6.4,14"/><path vector-effect="non-scaling-stroke" transform="translate(11.7,0)" d="M0.3,3.9 C0.4,1.5 2,0 4,0 C6.2,0 7.8,1.6 7.8,3.8 C7.8,5.2 7.2,6.3 6.2,7.5 L0,14 L8.1,14"/></g></g>
<rect x="1208.3" y="332.8" width="141" height="20" fill="#c8c9cb" stroke="#231f20" stroke-width="1.1" />
<rect x="1329.6" y="352.8" width="19.7" height="213.2" fill="#c8c9cb" stroke="#231f20" stroke-width="1.1" />
<rect x="1208.3" y="566" width="141" height="20.5" fill="#c8c9cb" stroke="#231f20" stroke-width="1.1" />
<rect x="1208.3" y="362.5" width="58.1" height="180.5" fill="#c8c9cb" stroke="#231f20" stroke-width="1.1" />
<rect x="1266.4" y="362.5" width="18.8" height="180.5" fill="#87888b" stroke="#231f20" stroke-width="1" />
<rect x="1285.2" y="361.5" width="36.8" height="162.5" fill="#88898c" stroke="#231f20" stroke-width="1" />
<polyline points="1311.5,368 1311.5,524" fill="none" stroke="#231f20" stroke-width="1.1" />
<polygon points="1311.5,362 1315,362 1315,369 1311.5,369" fill="#555" stroke="none" stroke-width="1" />
<rect x="1308.8" y="368.8" width="2.7" height="14.2" fill="#9a9b9e" stroke="#231f20" stroke-width="0.8" />
<rect x="1308.8" y="414.4" width="2.7" height="14.1" fill="#9a9b9e" stroke="#231f20" stroke-width="0.8" />
<rect x="1308.8" y="459.2" width="2.7" height="14" fill="#9a9b9e" stroke="#231f20" stroke-width="0.8" />
<polygon points="1313.2,475 1307.6,481 1307.6,488 1313.2,488" fill="#8f9093" stroke="#231f20" stroke-width="0.9" />
<polyline points="1311.5,498.6 1296.6,510.8 1296.6,524" fill="none" stroke="#231f20" stroke-width="1.1" />
<rect x="1311.5" y="490" width="3" height="34" fill="#555"/>
<circle cx="1273.8" cy="383.4" r="4" fill="none" stroke="#231f20" stroke-width="0.9"/>
<line x1="1271.2" y1="383.4" x2="1276.4" y2="383.4" stroke="#231f20" stroke-width="0.9" />
<line x1="1273.8" y1="380.8" x2="1273.8" y2="386" stroke="#231f20" stroke-width="0.9" />
<circle cx="1273.8" cy="452.4" r="4" fill="none" stroke="#231f20" stroke-width="0.9"/>
<line x1="1271.2" y1="452.4" x2="1276.4" y2="452.4" stroke="#231f20" stroke-width="0.9" />
<line x1="1273.8" y1="449.8" x2="1273.8" y2="455" stroke="#231f20" stroke-width="0.9" />
<circle cx="1273.8" cy="521.3" r="4" fill="none" stroke="#231f20" stroke-width="0.9"/>
<line x1="1271.2" y1="521.3" x2="1276.4" y2="521.3" stroke="#231f20" stroke-width="0.9" />
<line x1="1273.8" y1="518.7" x2="1273.8" y2="523.9" stroke="#231f20" stroke-width="0.9" />
<rect x="1285.8" y="525.3" width="3.2" height="17.2" fill="#fff" stroke="#231f20" stroke-width="0.9" />
<rect x="1289" y="524.6" width="8.2" height="5.2" fill="#fff" stroke="#231f20" stroke-width="1" />
<polyline points="1298.9,526 1298.9,541.5" fill="none" stroke="#2e2e2e" stroke-width="2.4" stroke-linejoin="round" stroke-linecap="round"/>
<polyline points="1298.9,526 1298.9,541.5" fill="none" stroke="#b4b4b4" stroke-width="0.7999999999999998" stroke-linejoin="round" stroke-linecap="round"/>
<polyline points="1321.2,526 1321.2,542.5" fill="none" stroke="#2e2e2e" stroke-width="2.4" stroke-linejoin="round" stroke-linecap="round"/>
<polyline points="1321.2,526 1321.2,542.5" fill="none" stroke="#b4b4b4" stroke-width="0.7999999999999998" stroke-linejoin="round" stroke-linecap="round"/>
<polyline points="1313.7,531.2 1303.4,531.2 1303.4,557 1313.7,557" fill="none" stroke="#2e2e2e" stroke-width="2.7" stroke-linejoin="round" stroke-linecap="round"/>
<polyline points="1313.7,531.2 1303.4,531.2 1303.4,557 1313.7,557" fill="none" stroke="#b4b4b4" stroke-width="1.1" stroke-linejoin="round" stroke-linecap="round"/>
<polyline points="1308.6,541.5 1316.5,541.5 1316.5,526" fill="none" stroke="#2e2e2e" stroke-width="2.7" stroke-linejoin="round" stroke-linecap="round"/>
<polyline points="1308.6,541.5 1316.5,541.5 1316.5,526" fill="none" stroke="#b4b4b4" stroke-width="1.1" stroke-linejoin="round" stroke-linecap="round"/>
<polyline points="1308.6,547 1317.9,547 1317.9,563.2 1300.6,563.2" fill="none" stroke="#2e2e2e" stroke-width="2.7" stroke-linejoin="round" stroke-linecap="round"/>
<polyline points="1308.6,547 1317.9,547 1317.9,563.2 1300.6,563.2" fill="none" stroke="#b4b4b4" stroke-width="1.1" stroke-linejoin="round" stroke-linecap="round"/>
<rect x="1289.6" y="546.7" width="10.4" height="17.5" fill="#2a2a2a" stroke="#444" stroke-width="1" />
<line x1="1290.5" y1="548.3" x2="1299" y2="548.3" stroke="#8a8a8a" stroke-width="0.8" />
<rect x="1300.6" y="563.8" width="27" height="2.2" fill="#9a9b9e" stroke="none" stroke-width="1.1" />
<polyline points="1300.6,565.2 1327.6,565.2 1327.6,507.5" fill="none" stroke="#2e2e2e" stroke-width="2.2" stroke-linejoin="round" stroke-linecap="round"/>
<polyline points="1300.6,565.2 1327.6,565.2 1327.6,507.5" fill="none" stroke="#b4b4b4" stroke-width="0.6000000000000001" stroke-linejoin="round" stroke-linecap="round"/>
<line x1="1236" y1="317.5" x2="1321.8" y2="317.5" stroke="#231f20" stroke-width="1.2" />
<polygon points="1273.5,317.5 1254.5,313.1 1254.5,321.9" fill="#231f20" stroke="none" stroke-width="1" />
<polygon points="1283.5,317.5 1302.5,313.1 1302.5,321.9" fill="#231f20" stroke="none" stroke-width="1" />
<line x1="1273.6" y1="315.3" x2="1273.6" y2="379.5" stroke="#231f20" stroke-width="1.2" />
<line x1="1283.5" y1="315" x2="1283.5" y2="357.3" stroke="#231f20" stroke-width="1.2" />
<g transform="translate(1267.45,295.65) scale(0.9918,0.9786) translate(0,0)" fill="none" stroke="#262626" stroke-width="1.3" stroke-linejoin="round"><g vector-effect="non-scaling-stroke"><path vector-effect="non-scaling-stroke" transform="translate(0,0)" d="M2.3,14 L7,6.8 M8,4 C8,6.4 6.2,8 4,8 C1.8,8 0,6.4 0,4 C0,1.6 1.8,0 4,0 C6.2,0 8,1.6 8,4 Z"/><path vector-effect="non-scaling-stroke" transform="translate(10.7,0)" d="M1.9,12.4 L1.1,16.6"/><path vector-effect="non-scaling-stroke" transform="translate(16.4,0)" d="M7.7,0 L0.7,0 L0.4,6.5 C1.4,5.7 2.6,5.3 3.9,5.3 C6.4,5.3 8,7.1 8,9.6 C8,12.3 6.3,14 3.9,14 C2.2,14 0.8,13.2 0,11.8"/></g></g>
<line x1="1244.3" y1="325" x2="1244.3" y2="521.3" stroke="#231f20" stroke-width="1.2" />
<polygon points="1244.3,362.2 1239.9,343.2 1248.7,343.2" fill="#231f20" stroke="none" stroke-width="1" />
<polygon points="1244.3,383.4 1239.9,402.4 1248.7,402.4" fill="#231f20" stroke="none" stroke-width="1" />
<polygon points="1244.3,452.4 1239.9,433.4 1248.7,433.4" fill="#231f20" stroke="none" stroke-width="1" />
<polygon points="1244.3,452.4 1239.9,471.4 1248.7,471.4" fill="#231f20" stroke="none" stroke-width="1" />
<polygon points="1244.3,521.3 1239.9,502.3 1248.7,502.3" fill="#231f20" stroke="none" stroke-width="1" />
<line x1="1242" y1="383.4" x2="1269.8" y2="383.4" stroke="#231f20" stroke-width="1.2" />
<line x1="1235.7" y1="452.4" x2="1269.8" y2="452.4" stroke="#231f20" stroke-width="1.2" />
<line x1="1236" y1="521.3" x2="1269.8" y2="521.3" stroke="#231f20" stroke-width="1.2" />
<g transform="translate(1224.8,381.3) rotate(-90) translate(0.65,0.65) scale(0.9102,0.9786) translate(-3,0)" fill="none" stroke="#262626" stroke-width="1.3" stroke-linejoin="round"><path vector-effect="non-scaling-stroke" transform="translate(0,0)" d="M3,2.4 L6.4,0 L6.4,14"/><path vector-effect="non-scaling-stroke" transform="translate(11.7,0)" d="M2.3,14 L7,6.8 M8,4 C8,6.4 6.2,8 4,8 C1.8,8 0,6.4 0,4 C0,1.6 1.8,0 4,0 C6.2,0 8,1.6 8,4 Z"/></g>
<g transform="translate(1223.3,428) rotate(-90) translate(0.65,0.65) scale(0.9110,1.0286) translate(0,0)" fill="none" stroke="#262626" stroke-width="1.3" stroke-linejoin="round"><path vector-effect="non-scaling-stroke" transform="translate(0,0)" d="M5.7,0 L1,7.2 M0,10 C0,7.6 1.8,6 4,6 C6.2,6 8,7.6 8,10 C8,12.4 6.2,14 4,14 C1.8,14 0,12.4 0,10 Z"/><path vector-effect="non-scaling-stroke" transform="translate(10.7,0)" d="M5.3,0 L0,9.8 L8.4,9.8 M6.5,5.4 L6.5,14"/></g>
<g transform="translate(1223.3,496.5) rotate(-90) translate(0.65,0.65) scale(0.9267,1.0286) translate(0,0)" fill="none" stroke="#262626" stroke-width="1.3" stroke-linejoin="round"><path vector-effect="non-scaling-stroke" transform="translate(0,0)" d="M5.7,0 L1,7.2 M0,10 C0,7.6 1.8,6 4,6 C6.2,6 8,7.6 8,10 C8,12.4 6.2,14 4,14 C1.8,14 0,12.4 0,10 Z"/><path vector-effect="non-scaling-stroke" transform="translate(10.7,0)" d="M5.3,0 L0,9.8 L8.4,9.8 M6.5,5.4 L6.5,14"/></g></svg>
</body></html>
